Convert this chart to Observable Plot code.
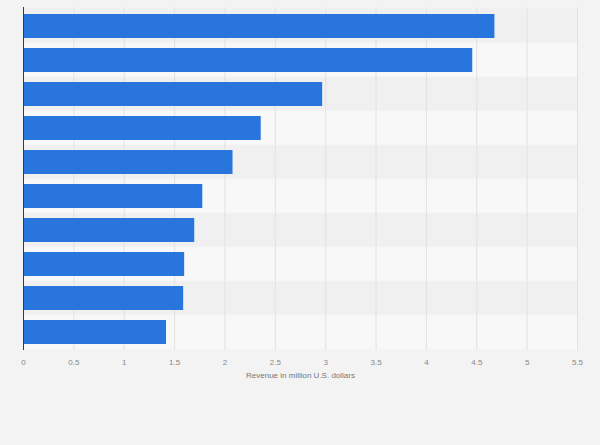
<!DOCTYPE html>
<html>
<head>
<meta charset="utf-8">
<script src="https://cdn.jsdelivr.net/npm/d3@7"></script>
<script src="https://cdn.jsdelivr.net/npm/@observablehq/plot@0.6"></script>
<style>
  html, body { margin: 0; padding: 0; background: #f3f3f3; }
  #chart svg { display: block; }
</style>
</head>
<body>
<div id="chart"></div>
<script>
const categories = ["1", "2", "3", "4", "5", "6", "7", "8", "9", "10"];
const values = [4.68, 4.46, 2.97, 2.36, 2.08, 1.78, 1.70, 1.60, 1.59, 1.42];
const xTicks = [0, 0.5, 1, 1.5, 2, 2.5, 3, 3.5, 4, 4.5, 5, 5.5];
const xLabel = "Revenue in million U.S. dollars";

const data = categories.map((c, i) => ({category: c, value: values[i], row: i}));

const chart = Plot.plot({
  width: 600,
  height: 445,
  marginTop: 7,
  marginBottom: 95,
  marginLeft: 23,
  marginRight: 23,
  style: {background: "#f3f3f3", fontFamily: "Liberation Sans, Arial, sans-serif"},
  x: {domain: [0, 5.5], ticks: xTicks, label: null},
  y: {domain: categories, paddingInner: 0.3, paddingOuter: 0.15, axis: null},
  marks: [
    Plot.barX(data, {
      y: "category", x1: 0, x2: 5.5,
      fill: d => d.row % 2 === 0 ? "#f0f0f0" : "#f8f8f8",
      insetTop: -5.2, insetBottom: -5.2
    }),
    Plot.ruleX(xTicks.filter(t => t > 0), {stroke: "#e2e2e2", strokeWidth: 1}),
    Plot.barX(data, {y: "category", x: "value", fill: "#2876dd"}),
    Plot.ruleX([0], {stroke: "#3a3a3a", strokeWidth: 1}),
    Plot.axisX({ticks: xTicks, tickSize: 0, tickPadding: 9, fontSize: 8, color: "#888", label: null, tickFormat: d => String(d)}),
    Plot.text([xLabel], {frameAnchor: "bottom", dy: 27, fontSize: 8, fill: "#777"})
  ]
});
document.getElementById("chart").append(chart);
</script>
</body>
</html>
